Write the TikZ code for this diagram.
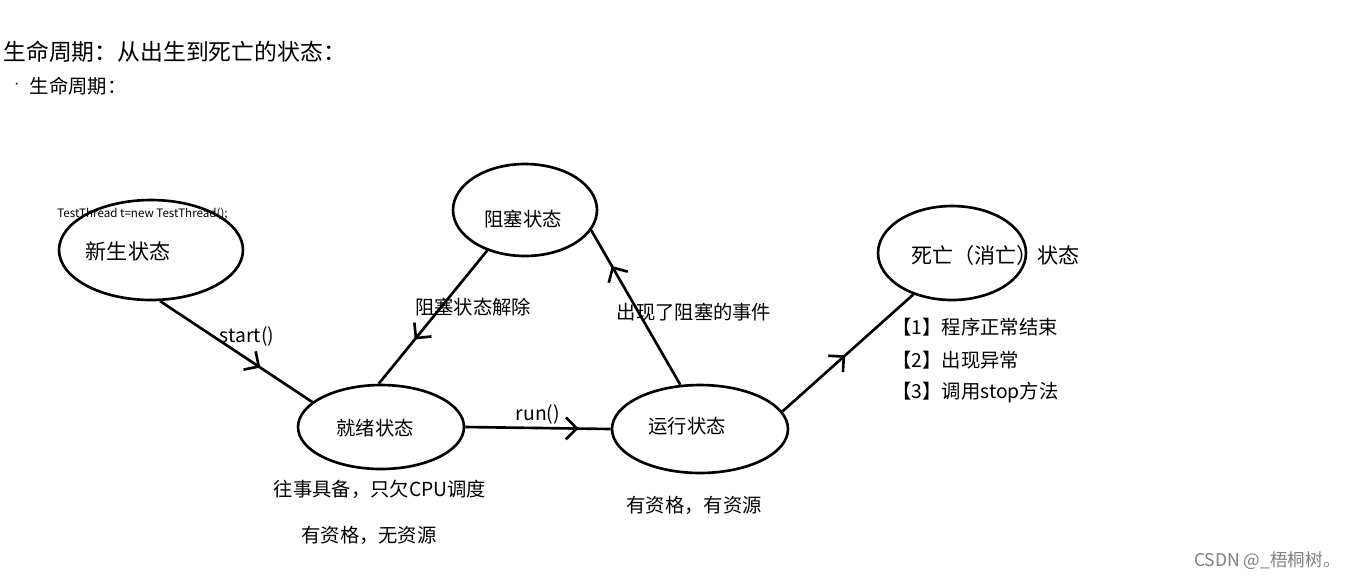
\documentclass[tikz,border=0pt]{standalone}
\usepackage{fontspec}
\setmainfont{Noto Sans CJK SC}
\usetikzlibrary{arrows.meta,shapes.geometric,decorations.markings}

\begin{document}
\begin{tikzpicture}[
  x=0.02cm, y=-0.02cm,
  state/.style={draw, ellipse, line width=1.5pt, inner sep=0pt},
  txt/.style={inner sep=0pt, font=\fontsize{11}{13}\selectfont},
  big/.style={inner sep=0pt, font=\fontsize{12}{14}\selectfont},
  flow/.style={line width=1.5pt, postaction={decorate},
    decoration={markings, mark=at position #1 with
      {\arrow{Straight Barb[length=2.2mm,width=4.4mm,line width=1.5pt]}}}}
]
\useasboundingbox (0,0) rectangle (1351,579);

\node[inner sep=0pt, anchor=west, font=\fontsize{13}{15}\selectfont] (title) at (3,52) {生命周期：从出生到死亡的状态：};
\node[txt, anchor=west] (sub) at (12,86) {\raisebox{.6ex}{\tiny ·}\hspace{.45em}生命周期：};

\node[state, minimum width=3.68cm, minimum height=2.0cm] (new) at (151,250) {};
\node[state, minimum width=2.88cm, minimum height=1.84cm] (block) at (525,210) {};
\node[state, minimum width=2.96cm, minimum height=1.88cm] (death) at (952,253) {};
\node[state, minimum width=3.32cm, minimum height=1.68cm] (ready) at (381,427) {};
\node[state, minimum width=3.52cm, minimum height=1.76cm] (run) at (700,429) {};

\node[inner sep=0pt, anchor=west, font=\fontsize{6.6}{8}\selectfont] (code) at (57,214) {TestThread t=new TestThread();};
\node[big] (tnew) at (128,251) {新生状态};
\node[txt] (tblock) at (523,219) {阻塞状态};
\node[big, anchor=west] (tdeath) at (911,255) {死亡（消亡）状态};
\node[txt] (tready) at (375,428) {就绪状态};
\node[txt] (trun) at (687,426) {运行状态};

\draw[flow=0.66] (new.-80) -- (ready.160);
\draw[flow=0.67] (block.-133) -- (ready.93);
\draw[flow=0.78] (ready.east) -- (run.west);
\draw[flow=0.77] (run.114) -- (block.-17);
\draw[flow=0.48] (run.12) -- (death.-133);

\node[txt] (lstart) at (247,336) {start()};
\node[txt] (lunblock) at (473,307) {阻塞状态解除};
\node[txt] (lrun) at (538,414) {run()};
\node[txt] (levent) at (694,312) {出现了阻塞的事件};

\node[txt, anchor=west] (c1) at (892,327) {【1】程序正常结束};
\node[txt, anchor=west] (c2) at (892,360) {【2】出现异常};
\node[txt, anchor=west] (c3) at (892,393) {【3】调用stop方法};

\node[txt] (nready1) at (380,489) {往事具备，只欠CPU调度};
\node[txt] (nready2) at (369,535) {有资格，无资源};
\node[txt] (nrun) at (694,505) {有资格，有资源};

\node[inner sep=0pt, anchor=east, text=gray, font=\fontsize{10}{12}\selectfont] (mark) at (1341,561) {CSDN @\_梧桐树。};
\end{tikzpicture}
\end{document}
